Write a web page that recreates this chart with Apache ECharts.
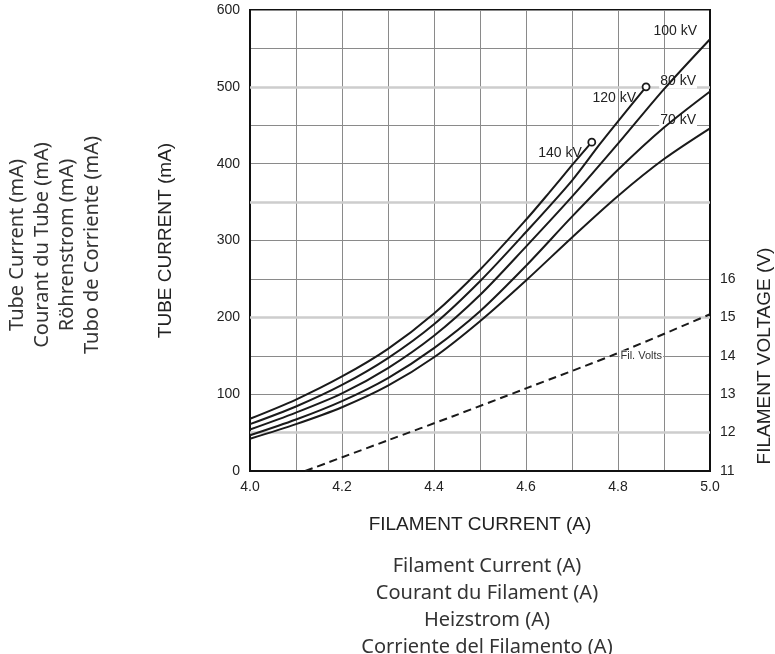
<!DOCTYPE html>
<html><head><meta charset="utf-8">
<script src="https://cdn.jsdelivr.net/npm/echarts@6/dist/echarts.min.js"></script>
<style>html,body{margin:0;padding:0;background:#fff}#c{width:775px;height:654px}</style>
</head><body><div id="c"></div>
<script>
// Tube current (mA) vs filament current (A), per tube voltage
const kv70  = [[4.0,42],[4.1,61],[4.2,83],[4.3,111],[4.4,148],[4.5,195],[4.6,248],[4.7,304],[4.8,358],[4.9,406],[5.0,446]];
const kv80  = [[4.0,46.5],[4.1,67],[4.2,91],[4.3,121],[4.4,160],[4.5,208],[4.6,267],[4.7,331],[4.8,392],[4.9,447],[5.0,494]];
const kv100 = [[4.0,54],[4.1,76],[4.2,101],[4.3,134],[4.4,176],[4.5,229],[4.6,292],[4.7,357],[4.8,426],[4.9,497],[5.0,562]];
const kv120 = [[4.0,61],[4.1,84],[4.2,112],[4.3,147],[4.4,191],[4.5,247],[4.6,311],[4.7,378],[4.76,425],[4.8,455],[4.861,500]];
const kv140 = [[4.0,68],[4.1,93],[4.2,123],[4.3,159],[4.4,205],[4.5,262],[4.6,327],[4.65,362],[4.7,398],[4.743,428]];
const curveNames = ['70 kV','80 kV','100 kV','120 kV','140 kV'];
const curves = [kv70, kv80, kv100, kv120, kv140];
const endDotCurves = ['120 kV','140 kV'];
// Filament voltage (V) vs filament current (A)
const filVolts = [[4.12,11],[4.3,11.8],[4.44,12.42],[4.6,13.15],[4.8,14.07],[5.0,15.08]];
const filVoltsName = 'Fil. Volts';
const filVoltsLabelIndex = 4;
// emphasised grid rows (mA)
const refLinesMA = [50,200,350,500];
const rightAxisMaxLabel = 16;
const leftTitles = ['Tube Current (mA)','Courant du Tube (mA)','Röhrenstrom (mA)','Tubo de Corriente (mA)'];
const bottomTitles = ['Filament Current (A)','Courant du Filament (A)','Heizstrom (A)','Corriente del Filamento (A)'];

const AR = 'Liberation Sans, Arial, sans-serif';
const SANS = 'Noto Sans, Open Sans, sans-serif';
const labelOffsets = {'70 kV':[-13,-8],'80 kV':[-13,-10],'100 kV':[-12,-8],'120 kV':[-9,11],'140 kV':[-9,11]};
const labelBg = {'70 kV':'#fff','80 kV':'#fff','100 kV':'transparent','120 kV':'transparent','140 kV':'transparent'};

const chart = echarts.init(document.getElementById('c'), null, {renderer:'canvas'});
const series = [{
  type:'line', data:[], silent:true, z:1,
  markLine:{silent:true, z:1, symbol:'none', label:{show:false}, animation:false,
    lineStyle:{color:'#cdcdcd', width:2.5, type:'solid'},
    data: refLinesMA.map(v=>({yAxis:v}))}
}];
curves.forEach((c,i)=>{
  const name = curveNames[i];
  series.push({
    name, type:'line', data:c, smooth:0.3, symbol:'none', z:2+i,
    lineStyle:{color:'#1a1a1a', width:2},
    endLabel:{show:true, formatter:name, align:'right', verticalAlign:'middle', distance:0,
      offset:labelOffsets[name], fontSize:14, color:'#222', fontFamily:AR,
      backgroundColor:labelBg[name], padding:[0,1]}
  });
});
series.push({
  type:'scatter', z:10, symbol:'circle', symbolSize:7,
  itemStyle:{color:'#ffffff', borderColor:'#1a1a1a', borderWidth:1.8, opacity:1},
  data: endDotCurves.map(n=>{const c=curves[curveNames.indexOf(n)]; return c[c.length-1];})
});
series.push({
  name:filVoltsName, type:'line', yAxisIndex:1, smooth:0.3, symbol:'none', z:3,
  lineStyle:{color:'#1a1a1a', width:2, type:[8,5]},
  data: filVolts,
  markPoint:{silent:true, z:6, symbol:'circle', symbolSize:1, itemStyle:{color:'rgba(0,0,0,0)'},
    label:{show:true, position:'right', distance:1, offset:[0,3], formatter:filVoltsName, fontSize:11, color:'#333',
      fontFamily:AR, backgroundColor:'#fff', padding:[0,1]},
    data:[{coord:filVolts[filVoltsLabelIndex]}]}
});

chart.setOption({
  animation:false,
  backgroundColor:'#fff',
  grid:{show:true, left:250, right:65, top:10, bottom:183, borderColor:'#111', borderWidth:2, backgroundColor:'transparent'},
  xAxis:{type:'value', min:4, max:5, interval:0.2,
    name:'FILAMENT CURRENT (A)', nameLocation:'middle', nameGap:44,
    nameTextStyle:{fontSize:19, color:'#222', fontFamily:AR},
    axisLine:{show:true, lineStyle:{color:'#111', width:2}}, axisTick:{show:false},
    axisLabel:{margin:9, fontSize:14, color:'#222', fontFamily:AR, formatter:v=>v.toFixed(1)},
    splitLine:{show:true, lineStyle:{color:'#8a8a8a', width:1}},
    minorTick:{show:false, splitNumber:2},
    minorSplitLine:{show:true, lineStyle:{color:'#8a8a8a', width:1}}},
  yAxis:[{type:'value', min:0, max:600, interval:100,
    name:'TUBE CURRENT (mA)', nameLocation:'middle', nameGap:75, nameRotate:90,
    nameTextStyle:{fontSize:19, color:'#222', fontFamily:AR},
    axisLine:{show:true, lineStyle:{color:'#111', width:2}}, axisTick:{show:false},
    axisLabel:{margin:10, fontSize:14, color:'#222', fontFamily:AR},
    splitLine:{show:true, lineStyle:{color:'#8a8a8a', width:1}},
    minorTick:{show:false, splitNumber:2},
    minorSplitLine:{show:true, lineStyle:{color:'#8a8a8a', width:1}}},
   {type:'value', position:'right', min:11, max:23, interval:1,
    axisLine:{show:true, lineStyle:{color:'#111', width:2}}, axisTick:{show:false},
    axisLabel:{margin:10, fontSize:14, color:'#222', fontFamily:AR, formatter:v=> v<=rightAxisMaxLabel ? String(v) : ''},
    splitLine:{show:false}}],
  graphic:[
    {type:'text', x:765, y:356, rotation:Math.PI/2, style:{text:'FILAMENT VOLTAGE (V)', fontSize:19, fontFamily:AR, fill:'#222', align:'center', verticalAlign:'middle'}},
    {type:'text', x:55, y:245, rotation:Math.PI/2, style:{text:leftTitles.join('\n'), fontSize:20, lineHeight:25, fontFamily:SANS, fill:'#333', align:'center', verticalAlign:'middle'}},
    {type:'text', x:487, y:607, style:{text:bottomTitles.join('\n'), fontSize:20, lineHeight:27, fontFamily:SANS, fill:'#333', align:'center', verticalAlign:'middle'}}
  ],
  series
});
</script></body></html>
